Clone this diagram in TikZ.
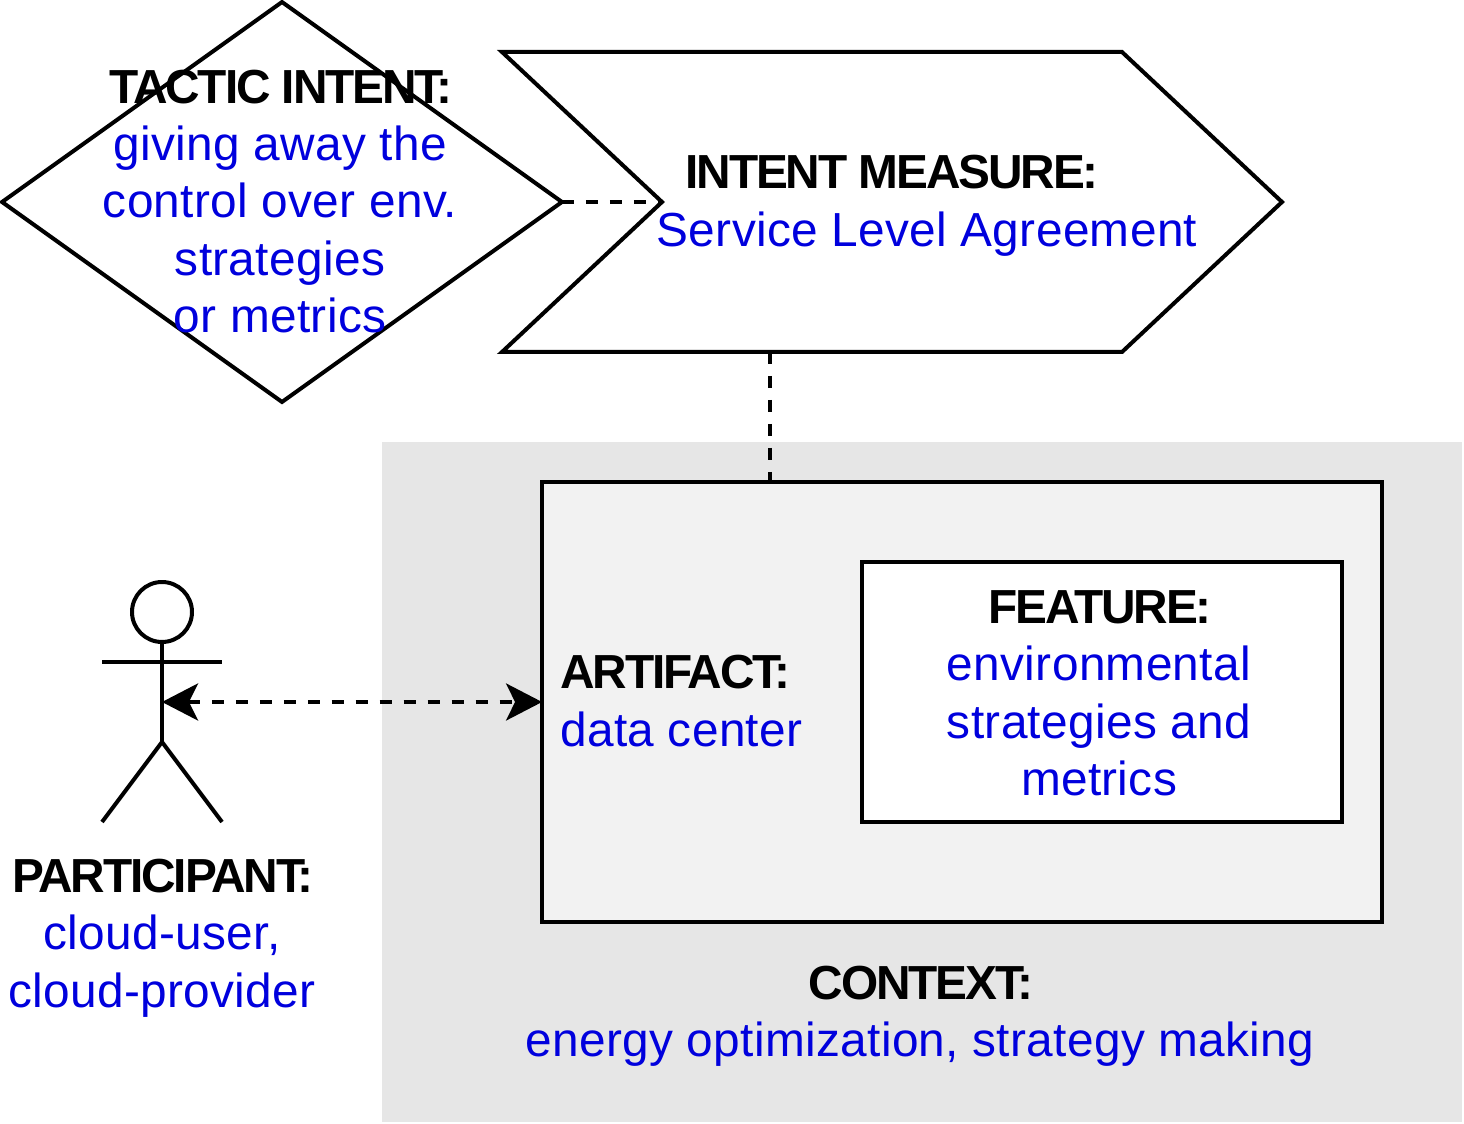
\documentclass[tikz,border=0pt]{standalone}
\usepackage{fontspec}
\setmainfont{Liberation Sans}[LetterSpace=0.7,BoldFeatures={LetterSpace=-4.4}]
\usetikzlibrary{arrows.meta,shapes.geometric}
\definecolor{contextgray}{RGB}{230,230,230}
\definecolor{artifactgray}{RGB}{242,242,242}
\definecolor{valueblue}{RGB}{0,0,221}
\newcommand{\headline}[1]{\textbf{#1}}
\newcommand{\valueline}[1]{\textcolor{valueblue}{#1}}
\tikzset{
  box/.style={draw=black,line width=0.08cm,inner sep=0pt,outer sep=0pt},
  caption/.style={align=center,inner sep=0pt,font=\fontsize{27.2}{32.7}\selectfont},
  linkline/.style={draw=black,line width=0.08cm,dash pattern=on 0.24cm off 0.24cm},
  linktip/.tip={Stealth[length=0.72cm,width=0.74cm,inset=0.18cm]},
}
\begin{document}
\begin{tikzpicture}[x=0.02cm,y=-0.02cm]
        \useasboundingbox (0,0) rectangle (1464,1124);
        \path [fill=contextgray] (382,442) rectangle (1462,1122);
        \node (artifact) at (962,702) [box,fill=artifactgray,minimum width=16.8cm,minimum height=8.8cm] {};
        \node (feature) at (1102,692) [box,fill=white,minimum width=9.6cm,minimum height=5.2cm] {};
        \node (tactic) at (282,202) [box,shape=diamond,minimum width=11.2cm,minimum height=8cm] {};
        \path [draw=black,line width=0.08cm,line join=miter] (502,52) -- (1122,52) -- (1282,202) -- (1122,352) -- (502,352) -- (662,202) -- cycle;
        \coordinate (measurenotch) at (662,202);
        \coordinate (measurefoot) at (770,352);
        \draw [linkline] (tactic.east) -- (measurenotch);
        \draw [linkline] (measurefoot) -- (measurefoot |- artifact.north);
        % stick figure
        \node (head) at (162,612) [box,shape=circle,minimum size=1.2cm] {};
        \coordinate (hip) at (162,742);
        \coordinate (waist) at (162,702);
        \draw [line width=0.08cm] (head.south) -- (hip);
        \draw [line width=0.08cm] (102,662) -- (222,662);
        \draw [line width=0.08cm] (102,822) -- (hip) -- (222,822);
        \draw [linkline,linktip-linktip] (waist) -- (artifact.west);
        % texts
        \node (tactictext) at (280,201.5) [caption] {\headline{TACTIC INTENT:}\\\valueline{giving away the}\\\valueline{control over env.}\\\valueline{strategies}\\\valueline{or metrics}};
        \node (measuretext) at (927,206) [caption] {\headline{INTENT MEASURE:}\hspace*{1.44cm}\\\valueline{Service Level Agreement}};
        \node (artifacttext) at (560,701) [caption,anchor=west,align=left] {\headline{ARTIFACT:}\\\valueline{data center}};
        \node (featuretext) at (1099,693.5) [caption] {\headline{FEATURE:}\\\valueline{environmental}\\\valueline{strategies and}\\\valueline{metrics}};
        \node (participanttext) at (162,938) [caption] {\headline{PARTICIPANT:}\\\valueline{cloud-user,}\\\valueline{cloud-provider}};
        \node (contexttext) at (920,1016) [caption] {\headline{CONTEXT:}\\\valueline{energy optimization, strategy making}};
\end{tikzpicture}
\end{document}
